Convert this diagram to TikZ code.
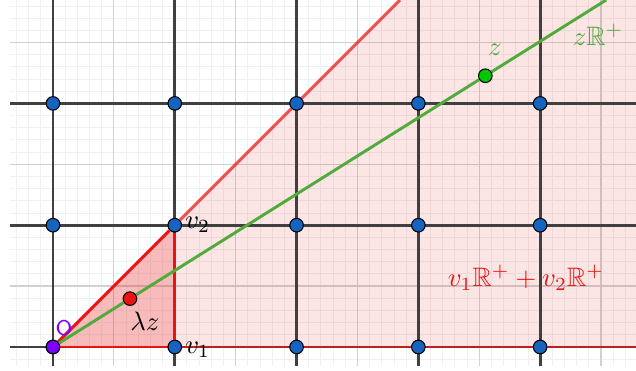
\documentclass[tikz,border=0pt]{standalone}
\usepackage{amssymb}
\usetikzlibrary{positioning, backgrounds}
\definecolor{latblue}{RGB}{21,101,192}
\definecolor{latgray}{RGB}{64,64,64}
\definecolor{conered}{RGB}{235,20,20}
\definecolor{linegreen}{RGB}{80,170,60}
\definecolor{ptgreen}{RGB}{0,200,0}
\definecolor{originpurple}{RGB}{125,0,255}
\begin{document}
\begin{tikzpicture}[
        x=1.606cm, y=1.606cm,
        minor/.style={draw=black!6, line width=0.35pt},
        medium/.style={draw=black!18, line width=0.45pt},
        lattice/.style={draw=latgray, line width=1.1pt},
        dot/.style={circle, draw=black, line width=0.4pt, inner sep=0pt, minimum size=5.1pt},
        edge/.style={conered, line width=1.1pt},
        ray/.style={conered, opacity=0.72, line width=1.1pt},
        gline/.style={linegreen, line width=1.1pt},
        lbl/.style={inner sep=1pt}
      ]
        \useasboundingbox (-0.435,-0.197) rectangle (4.787,2.849);
        \foreach \i in {0,...,4}
          \foreach \j in {0,1,2}
            \node[dot, fill=latblue] (p\i\j) at (\i,\j) {};
        \node[dot, fill=originpurple] (O) at (0,0) {};
        \node[dot, fill=conered] (lz) at (0.632,0.397) {};
        \node[dot, fill=ptgreen] (z) at (3.55,2.227) {};
        \coordinate (r1) at (4.787,0);
        \coordinate (r2) at (2.849,2.849);
        \coordinate (corner) at (4.787,2.849);
        \coordinate (g) at (4.542,2.849);
        \begin{scope}[on background layer]
          \fill[white] (-0.435,-0.197) rectangle (corner);
          \foreach \i in {-3,...,47}
            \draw[minor] (\i/10,-0.16) -- (\i/10,2.849);
          \foreach \j in {-1,...,28}
            \draw[minor] (-0.353,\j/10) -- (4.787,\j/10);
          \foreach \i in {0,...,9}
            \draw[medium] (\i/2,-0.16) -- (\i/2,2.849);
          \foreach \j in {0,...,5}
            \draw[medium] (-0.353,\j/2) -- (4.787,\j/2);
          \fill[conered, opacity=0.11] (O.center) -- (r1) -- (corner) -- (r2) -- cycle;
          \fill[conered, opacity=0.2] (O.center) -- (p10.center) -- (p11.center) -- cycle;
          \foreach \i in {0,...,4}
            \draw[lattice] (\i,-0.16) -- (\i,2.849);
          \foreach \j in {0,1,2}
            \draw[lattice] (-0.353,\j) -- (4.787,\j);
        \end{scope}
        \draw[edge] (O) -- (p10);
        \draw[edge] (p10) -- (p11);
        \draw[edge] (O) -- (p11);
        \draw[ray] (p11) -- (p22) -- (r2);
        \draw[ray] (p10) -- (p20) -- (p30) -- (p40) -- (r1);
        \draw[gline] (O) -- (lz) -- (z) -- (g);
        \node[lbl, right=0pt of p11] (v2lab) {$v_2$};
        \node[lbl, right=0pt of p10, yshift=-1pt] (v1lab) {$v_1$};
        \node[lbl] (lzlab) at (0.755,0.213) {$\lambda z$};
        \node[lbl, text=originpurple, font=\sffamily\footnotesize] (Olab) at (0.09,0.158) {O};
        \node[lbl, text=linegreen] (zlab) at (3.629,2.438) {$z$};
        \node[lbl, text=linegreen] (zRlab) at (4.475,2.562) {$z\mathbb{R}^+$};
        \node[lbl, text=conered] (conelab) at (3.883,0.567) {$v_1\mathbb{R}^+ + v_2\mathbb{R}^+$};
      \end{tikzpicture}
\end{document}
